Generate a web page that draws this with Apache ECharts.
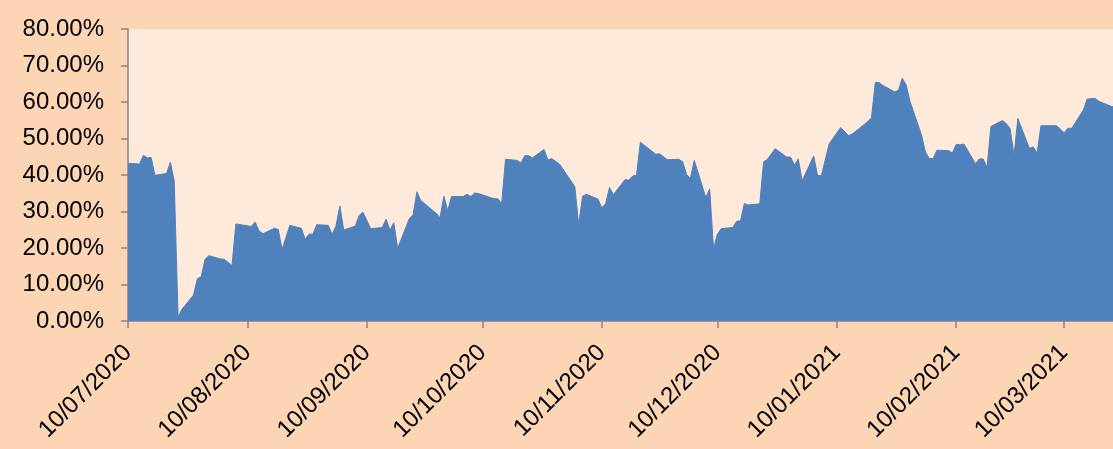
<!DOCTYPE html>
<html>
<head>
<meta charset="utf-8">
<script src="https://cdn.jsdelivr.net/npm/echarts@6/dist/echarts.min.js"></script>
<style>
  html, body { margin: 0; padding: 0; background: #FCD5B4; }
  #chart { width: 1113px; height: 449px; }
</style>
</head>
<body>
<div id="chart"></div>
<script>
// dates (business days)
const dates = [
  "2020-07-10", "2020-07-13", "2020-07-14", "2020-07-15", "2020-07-16", "2020-07-17",
  "2020-07-20", "2020-07-21", "2020-07-22", "2020-07-23", "2020-07-24",
  "2020-07-27", "2020-07-28", "2020-07-29", "2020-07-30", "2020-07-31",
  "2020-08-03", "2020-08-04", "2020-08-06", "2020-08-07",
  "2020-08-11", "2020-08-12", "2020-08-13", "2020-08-14",
  "2020-08-17", "2020-08-18", "2020-08-19", "2020-08-21",
  "2020-08-24", "2020-08-25", "2020-08-26", "2020-08-27", "2020-08-28",
  "2020-08-31", "2020-09-01", "2020-09-02", "2020-09-03", "2020-09-04",
  "2020-09-07", "2020-09-08", "2020-09-09", "2020-09-11",
  "2020-09-14", "2020-09-15", "2020-09-16", "2020-09-17", "2020-09-18",
  "2020-09-21", "2020-09-22", "2020-09-23", "2020-09-24",
  "2020-09-28", "2020-09-29", "2020-09-30", "2020-10-01", "2020-10-02",
  "2020-10-05", "2020-10-06", "2020-10-07", "2020-10-08", "2020-10-09",
  "2020-10-13", "2020-10-14", "2020-10-15", "2020-10-16",
  "2020-10-19", "2020-10-20", "2020-10-21", "2020-10-22", "2020-10-23",
  "2020-10-26", "2020-10-27", "2020-10-28", "2020-10-30",
  "2020-11-03", "2020-11-04", "2020-11-05", "2020-11-06",
  "2020-11-09", "2020-11-10", "2020-11-11", "2020-11-12", "2020-11-13",
  "2020-11-16", "2020-11-17", "2020-11-18", "2020-11-19", "2020-11-20",
  "2020-11-24", "2020-11-25", "2020-11-27",
  "2020-11-30", "2020-12-01", "2020-12-02", "2020-12-03", "2020-12-04",
  "2020-12-07", "2020-12-08", "2020-12-09", "2020-12-10", "2020-12-11",
  "2020-12-14", "2020-12-15", "2020-12-16", "2020-12-17", "2020-12-18",
  "2020-12-21", "2020-12-22", "2020-12-23", "2020-12-25",
  "2020-12-28", "2020-12-29", "2020-12-30", "2020-12-31", "2021-01-01",
  "2021-01-04", "2021-01-05", "2021-01-06", "2021-01-08",
  "2021-01-11", "2021-01-13", "2021-01-14",
  "2021-01-18", "2021-01-19", "2021-01-20", "2021-01-21", "2021-01-22",
  "2021-01-25", "2021-01-26", "2021-01-27", "2021-01-28", "2021-01-29",
  "2021-02-01", "2021-02-02", "2021-02-03", "2021-02-04", "2021-02-05",
  "2021-02-08", "2021-02-09", "2021-02-10", "2021-02-11", "2021-02-12",
  "2021-02-15", "2021-02-16", "2021-02-17", "2021-02-18", "2021-02-19",
  "2021-02-22", "2021-02-23", "2021-02-24", "2021-02-25", "2021-02-26",
  "2021-03-01", "2021-03-02", "2021-03-03", "2021-03-04",
  "2021-03-08", "2021-03-09", "2021-03-10", "2021-03-11", "2021-03-12",
  "2021-03-15", "2021-03-16", "2021-03-18", "2021-03-19",
  "2021-03-22", "2021-03-23"
];

// values in percent
const values = [
  43.2, 43.0, 45.4, 44.7, 44.8, 39.9,
  40.4, 43.5, 38.3, 1.1, 3.2,
  7.1, 11.6, 12.1, 16.9, 17.9,
  17.0, 16.9, 15.2, 26.6,
  25.9, 27.1, 24.7, 23.9,
  25.4, 25.1, 19.6, 26.2,
  25.4, 22.4, 23.8, 23.8, 26.4,
  26.2, 23.7, 26.1, 31.5, 24.9,
  26.0, 28.9, 29.8, 25.3,
  25.6, 27.9, 24.9, 26.9, 19.9,
  28.0, 29.1, 35.4, 33.0,
  29.5, 28.3, 34.2, 30.2, 34.1,
  34.1, 34.7, 34.1, 35.1, 34.9,
  33.5, 33.5, 32.2, 44.3,
  44.0, 43.3, 45.3, 45.3, 44.7,
  47.0, 44.1, 44.5, 43.0,
  36.8, 26.3, 34.2, 34.7,
  33.4, 31.0, 32.2, 36.6, 34.6,
  38.7, 38.6, 39.7, 40.0, 49.0,
  45.7, 45.8, 44.2,
  44.3, 43.6, 40.1, 39.1, 44.0,
  33.8, 36.2, 19.8, 23.8, 25.3,
  25.6, 27.3, 27.4, 32.2, 31.8,
  32.1, 43.6, 44.3, 47.2,
  44.9, 44.9, 42.7, 44.4, 38.4,
  45.2, 39.9, 39.8, 48.5,
  53.0, 50.8, 51.2,
  54.6, 55.7, 65.4, 65.3, 64.5,
  62.8, 63.2, 66.5, 64.7, 60.2,
  50.9, 46.3, 44.5, 44.5, 46.8,
  46.7, 46.0, 48.4, 48.3, 48.5,
  43.1, 44.4, 44.4, 42.0, 53.3,
  54.9, 54.1, 52.7, 45.3, 55.5,
  47.3, 47.7, 46.0, 53.5,
  53.5, 52.6, 51.6, 52.8, 52.8,
  57.8, 60.8, 61.0, 60.2,
  58.9, 58.6
];

// x-axis tick dates (10th of each month)
const tickDates = [
  "2020-07-10", "2020-08-10", "2020-09-10", "2020-10-10", "2020-11-10",
  "2020-12-10", "2021-01-10", "2021-02-10", "2021-03-10"
];

const yTicks = [0, 10, 20, 30, 40, 50, 60, 70, 80];

const textFont = { color: "#000", fontSize: 24, fontFamily: "Liberation Sans" };
const axisGrey = "#878787";

// dates as UTC timestamps, used on a plain value axis
const toTime = (s) => Date.parse(s + "T00:00:00Z");
const pad = (n) => (n < 10 ? "0" + n : "" + n);

const chart = echarts.init(document.getElementById("chart"), null, { renderer: "canvas" });

chart.setOption({
  animation: false,
  backgroundColor: "#FCD5B4",
  grid: {
    left: 128,
    right: 0,
    top: 29,
    bottom: 128,
    show: true,
    backgroundColor: "#FDEADA",
    borderWidth: 0,
    outerBoundsMode: "none",
    containLabel: false
  },
  xAxis: {
    type: "value",
    min: toTime("2020-07-10"),
    max: toTime("2020-07-10") + 255.7 * 86400000,
    scale: true,
    splitLine: { show: false },
    axisLine: { show: true, onZero: false, lineStyle: { color: axisGrey, width: 1.5 } },
    axisTick: {
      show: true,
      length: 7,
      lineStyle: { color: axisGrey, width: 1.5 },
      customValues: tickDates.map(toTime)
    },
    axisLabel: {
      ...textFont,
      rotate: 45,
      margin: 28,
      hideOverlap: false,
      showMinLabel: true,
      showMaxLabel: true,
      customValues: tickDates.map(toTime),
      formatter: (v) => {
        const d = new Date(v);
        return pad(d.getUTCDate()) + "/" + pad(d.getUTCMonth() + 1) + "/" + d.getUTCFullYear();
      }
    }
  },
  yAxis: {
    type: "value",
    min: yTicks[0],
    max: yTicks[yTicks.length - 1],
    interval: 10,
    splitLine: { show: false },
    axisLine: { show: true, lineStyle: { color: axisGrey, width: 1.5 } },
    axisTick: { show: true, length: 7, lineStyle: { color: axisGrey, width: 1.5 } },
    axisLabel: {
      ...textFont,
      margin: 24,
      formatter: (v) => v.toFixed(2) + "%"
    }
  },
  series: [
    {
      type: "line",
      data: dates.map((d, i) => [toTime(d), values[i]]),
      showSymbol: false,
      lineStyle: { color: "#4F81BD", width: 1 },
      areaStyle: { color: "#4F81BD", opacity: 1 },
      clip: true
    }
  ]
});
</script>
</body>
</html>
